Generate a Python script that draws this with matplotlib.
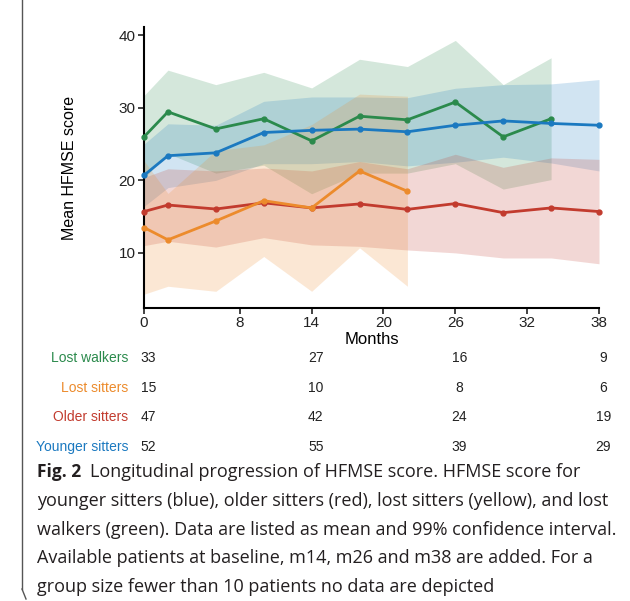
import matplotlib
matplotlib.use("Agg")
import matplotlib.pyplot as plt
from matplotlib.lines import Line2D
from matplotlib.transforms import blended_transform_factory

# months of follow-up
months = [0, 2, 6, 10, 14, 18, 22, 26, 30, 34, 38]

# mean HFMSE and 99% CI per group
walk_mean = [26.0, 29.45, 27.1, 28.5, 25.45, 28.85, 28.35, 30.8, 26.0, 28.5]
walk_lo = [20.3, 23.7, 21.0, 22.1, 18.15, 21.0, 21.0, 22.3, 18.8, 20.1]
walk_hi = [31.7, 35.2, 33.2, 34.9, 32.75, 36.7, 35.7, 39.3, 33.2, 36.9]

lost_mean = [13.5, 11.8, 14.4, 17.2, 16.2, 21.3, 18.5]
lost_lo = [4.3, 5.4, 4.7, 9.5, 4.7, 10.7, 5.4]
lost_hi = [22.7, 18.2, 24.1, 24.9, 27.7, 31.9, 31.6]

old_mean = [15.7, 16.6, 16.05, 16.9, 16.2, 16.75, 16.0, 16.8, 15.55, 16.2, 15.7]
old_lo = [11.0, 11.6, 10.8, 12.1, 11.1, 10.9, 10.4, 10.0, 9.3, 9.3, 8.5]
old_hi = [20.4, 21.6, 21.3, 21.7, 21.3, 22.6, 21.6, 23.6, 21.8, 23.1, 22.9]

young_mean = [20.7, 23.4, 23.8, 26.6, 26.9, 27.07, 26.7, 27.6, 28.2, 27.85, 27.6]
young_lo = [16.4, 19.0, 20.0, 22.3, 22.3, 22.6, 22.0, 22.5, 23.2, 22.4, 21.3]
young_hi = [25.0, 27.8, 27.6, 30.9, 31.5, 31.5, 31.4, 32.7, 33.2, 33.3, 33.9]

# patients available at baseline, m14, m26, m38
n_months = [0, 14, 26, 38]
groups = ["Lost walkers", "Lost sitters", "Older sitters", "Younger sitters"]
n_walk = [33, 27, 16, 9]
n_lost = [15, 10, 8, 6]
n_old = [47, 42, 24, 19]
n_young = [52, 55, 39, 29]

colors = {"Lost walkers": "#2b8a4c", "Lost sitters": "#ec8b2c",
          "Older sitters": "#c23b2e", "Younger sitters": "#1b79c0"}

caption = [
    "Longitudinal progression of HFMSE score. HFMSE score for",
    "younger sitters (blue), older sitters (red), lost sitters (yellow), and lost",
    "walkers (green). Data are listed as mean and 99% confidence interval.",
    "Available patients at baseline, m14, m26 and m38 are added. For a",
    "group size fewer than 10 patients no data are depicted",
]

plt.rcParams["font.family"] = ["Liberation Sans", "DejaVu Sans"]

fig = plt.figure(figsize=(6.30, 6.01), dpi=100)
ax = fig.add_axes([144 / 630, 1 - 308 / 601, 455 / 630, 281 / 601])

series = [
    ("Lost walkers", walk_mean, walk_lo, walk_hi),
    ("Younger sitters", young_mean, young_lo, young_hi),
    ("Older sitters", old_mean, old_lo, old_hi),
    ("Lost sitters", lost_mean, lost_lo, lost_hi),
]
for name, m, lo, hi in series:
    x = months[:len(m)]
    ax.fill_between(x, lo, hi, color=colors[name], alpha=0.2, lw=0)
for name, m, lo, hi in series:
    x = months[:len(m)]
    ax.plot(x, m, color=colors[name], lw=2, marker="o", ms=3.5, clip_on=False, zorder=3)

ax.set_xlim(0, 38)
ax.set_ylim(2.4, 41.15)
ax.set_xticks([0, 8, 14, 20, 26, 32, 38])
ax.set_yticks([10, 20, 30, 40])
ax.spines["top"].set_visible(False)
ax.spines["right"].set_visible(False)
ax.spines["left"].set_linewidth(1.5)
ax.spines["bottom"].set_linewidth(1.5)
ax.tick_params(labelsize=11, width=1.2, length=4, pad=2, colors="#222222")
ax.set_xlabel("Months", fontsize=12, labelpad=1)
ax.set_ylabel("Mean HFMSE score", fontsize=11.5, labelpad=30)

# patient count table
tr = blended_transform_factory(ax.transData, fig.transFigure)
counts = [n_walk, n_lost, n_old, n_young]
row_y = [1 - 358 / 601, 1 - 388 / 601, 1 - 417 / 601, 1 - 447 / 601]
for g, row, y in zip(groups, counts, row_y):
    fig.text(128 / 630, y, g, color=colors[g], fontsize=10, ha="right", va="center")
    for mth, n in zip(n_months, row):
        ax.text(mth + 0.35, y, str(n), transform=tr, fontsize=10, ha="center",
                va="center", color="#222222", clip_on=False)

# caption
cap_y = [1 - 472 / 601, 1 - 501 / 601, 1 - 530 / 601, 1 - 558 / 601, 1 - 587 / 601]
fig.text(37 / 630, cap_y[0], "Fig. 2", fontsize=12.5, fontweight="bold",
         family="Open Sans", va="center", color="#231f20")
fig.text(90 / 630, cap_y[0], caption[0], fontsize=13, family="Open Sans",
         va="center", color="#231f20")
for line, y in zip(caption[1:], cap_y[1:]):
    fig.text(37 / 630, y, line, fontsize=13, family="Open Sans", va="center",
             color="#231f20")

# frame line on the left
fig.add_artist(Line2D([22 / 630, 22 / 630], [1.0, 12 / 601], color="#555555", lw=1))
fig.add_artist(Line2D([22 / 630, 26 / 630], [12 / 601, 2 / 601], color="#555555", lw=1))

fig.savefig("out.png", dpi=100)
